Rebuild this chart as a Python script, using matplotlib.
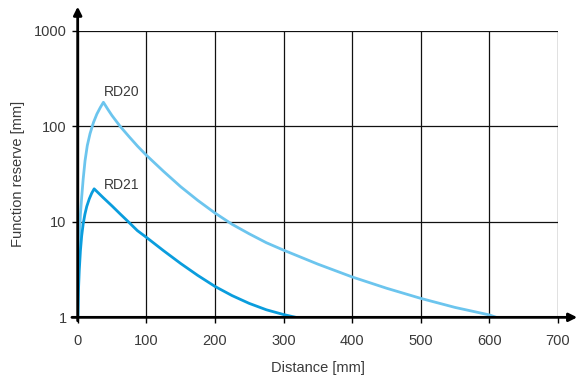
import matplotlib
matplotlib.use("Agg")
import matplotlib.pyplot as plt

# values
rd20_x = [0.5, 1.2, 2.4, 4, 5.8, 8, 10.7, 14, 18, 23, 28, 33, 37.5, 44, 50, 62, 75, 87,
          100, 125, 150, 175, 200, 225, 250, 275, 300, 350, 400, 450, 500, 550, 600, 610]
rd20_y = [1, 3, 6.6, 12, 18, 28, 43.6, 63, 84, 110, 135, 158, 179, 151, 130, 100, 78, 62.4,
          50, 33.9, 23.4, 16.8, 12.4, 9.44, 7.5, 6.05, 5.06, 3.61, 2.65, 2.02, 1.58, 1.27,
          1.06, 1.0]

rd21_x = [0, 1, 2.3, 4, 5.8, 8, 10.5, 13.2, 17, 20.5, 24, 37, 50, 62, 74, 87,
          100, 125, 150, 175, 200, 225, 250, 275, 300, 318]
rd21_y = [1, 1.8, 3.1, 5, 7.1, 9.5, 12, 14.5, 17.5, 20, 22.2, 18, 14.7, 12.1, 10, 8.1,
          6.9, 5.0, 3.67, 2.75, 2.11, 1.69, 1.4, 1.2, 1.07, 1.0]

x_ticks = [0, 100, 200, 300, 400, 500, 600, 700]
y_ticks = [1, 10, 100, 1000]
y_labels = ["1", "10", "100", "1000"]

plt.rcParams['font.family'] = ['Liberation Sans', 'DejaVu Sans']
txt = '#3a3a3a'

fig = plt.figure(figsize=(5.81, 3.76), dpi=100)
ax = fig.add_axes([0.1337, 0.156, 0.8267, 0.7616])

ax.set_yscale('log')
ax.set_xlim(0, 700)
ax.set_ylim(1, 1000)

ax.plot(rd20_x, rd20_y, color='#6cc5ee', lw=2, solid_capstyle='butt', zorder=3)
ax.plot(rd21_x, rd21_y, color='#0a9ddd', lw=2, solid_capstyle='butt', zorder=3)

ax.text(38, 195, 'RD20', fontsize=10, color=txt, va='bottom', ha='left')
ax.text(38, 20.5, 'RD21', fontsize=10, color=txt, va='bottom', ha='left')

for s in ax.spines.values():
    s.set_visible(False)

ax.set_xticks(x_ticks)
ax.set_yticks(y_ticks)
ax.set_yticklabels(y_labels)
ax.minorticks_off()
ax.grid(True, color='#111111', lw=0.9)
ax.tick_params(length=4, width=1, color='black', labelsize=10.5, labelcolor=txt)
ax.tick_params(axis='x', pad=8)
ax.tick_params(axis='y', pad=4)

# axis arrows
ax.annotate('', xy=(1.04, 0), xytext=(-0.012, 0), xycoords='axes fraction',
            arrowprops=dict(arrowstyle='-|>', color='black', lw=2, mutation_scale=12,
                            shrinkA=0, shrinkB=0), annotation_clip=False)
ax.annotate('', xy=(0, 1.085), xytext=(0, -0.012), xycoords='axes fraction',
            arrowprops=dict(arrowstyle='-|>', color='black', lw=2, mutation_scale=12,
                            shrinkA=0, shrinkB=0), annotation_clip=False)

ax.set_xlabel('Distance [mm]', fontsize=10.5, color=txt, labelpad=9)
ax.set_ylabel('Function reserve [mm]', fontsize=10.5, color=txt, labelpad=6)

fig.savefig('out.png', dpi=100)
